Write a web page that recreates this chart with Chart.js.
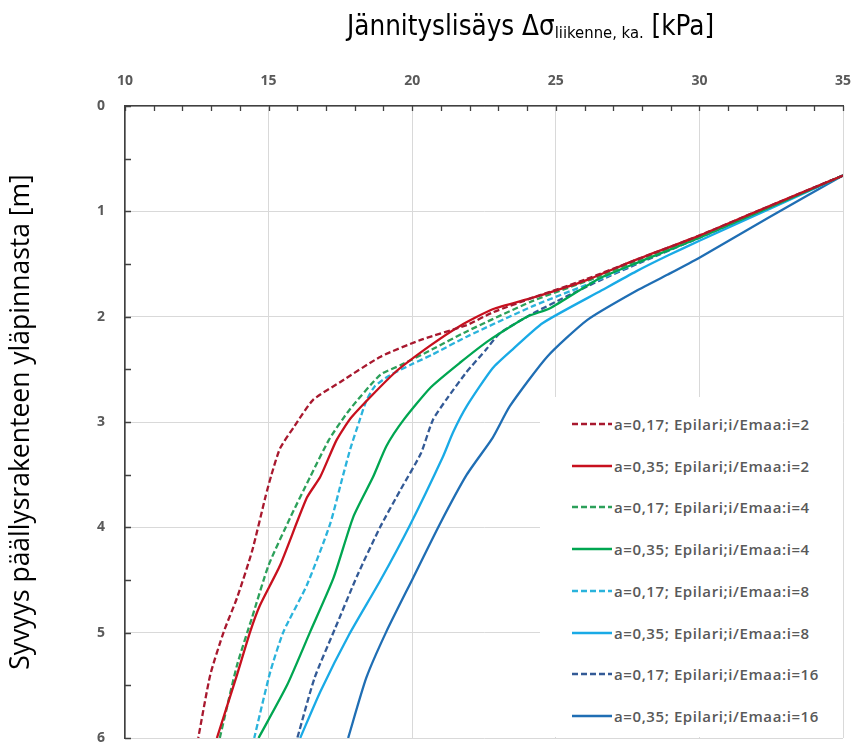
<!DOCTYPE html>
<html>
<head>
<meta charset="utf-8">
<script src="https://cdn.jsdelivr.net/npm/chart.js@4.4.0/dist/chart.umd.min.js"></script>
<style>
    body { margin: 0; background: #fff; }
    #wrap { position: relative; width: 853px; height: 747px; }
    #xTitle {
        position: absolute; left: 347px; top: 9px;
        font-family: "Liberation Sans Narrow", "DejaVu Sans Condensed", sans-serif;
        font-size: 27.5px; color: #000; white-space: nowrap;
    }
    #xTitle sub { font-size: 16.5px; vertical-align: baseline; position: relative; top: 3px; }
    #legend {
        position: absolute; left: 540px; top: 397px; width: 303px; height: 340px;
        background: #fff;
    }
    .row {
        position: absolute; left: 32px; height: 20px; display: flex; align-items: center;
        font: 600 15px "Open Sans", sans-serif; letter-spacing: 0.6px; color: #595959; white-space: nowrap;
    }
    .row svg { margin-right: 2px; }
</style>
</head>
<body>
<div id="wrap">
    <canvas id="chart" width="853" height="747"></canvas>
    <div id="xTitle">Jännityslisäys Δσ<sub>liikenne, ka.</sub> [kPa]</div>
    <div id="legend"></div>
</div>
<script>
// Series values: stress [kPa] vs depth [m]
const stress_017_i2 = [35, 32, 30, 27.7, 26, 24.2, 22.8, 21.9, 20.3, 18.9, 17.5, 16.55, 15.9, 15.4, 15.1, 14.9, 14.42, 13.9, 13.44, 12.97, 12.55];
const depth_017_i2  = [0.66, 1.0, 1.23, 1.47, 1.65, 1.82, 1.96, 2.08, 2.22, 2.38, 2.62, 2.79, 3.04, 3.25, 3.5, 3.7, 4.23, 4.67, 4.99, 5.40, 6.0];

const stress_035_i2 = [35, 32, 30, 27.7, 26.1, 24.2, 22.8, 21.65, 20.6, 19.4, 17.9, 17.37, 16.8, 16.33, 15.4, 14.7, 14.36, 13.9, 13.2];
const depth_035_i2  = [0.66, 1.0, 1.23, 1.47, 1.65, 1.82, 1.93, 2.09, 2.28, 2.53, 2.95, 3.17, 3.52, 3.72, 4.36, 4.74, 4.99, 5.40, 6.0];

const stress_017_i4 = [35, 30, 28, 26.5, 24.2, 21.9, 20.7, 19.6, 18.9, 17.8, 17.1, 16.45, 15.75, 15.0, 14.42, 13.9, 13.3];
const depth_017_i4  = [0.66, 1.24, 1.45, 1.62, 1.85, 2.14, 2.31, 2.46, 2.55, 2.89, 3.17, 3.52, 3.91, 4.36, 4.86, 5.31, 6.0];

const stress_035_i4 = [35, 30, 28, 26.5, 24.8, 24.0, 22.7, 21.65, 20.65, 19.7, 19.1, 18.64, 17.95, 17.26, 16.45, 15.64, 14.65];
const depth_035_i4  = [0.66, 1.25, 1.47, 1.64, 1.92, 2.0, 2.22, 2.44, 2.67, 2.98, 3.23, 3.52, 3.9, 4.48, 4.99, 5.50, 6.0];

const stress_017_i8 = [35, 30, 28, 26.5, 24.2, 21.9, 20.7, 20.0, 19.2, 18.7, 18.4, 18.15, 17.85, 17.55, 17.14, 16.33, 15.52, 15.06, 14.5];
const depth_017_i8  = [0.66, 1.25, 1.47, 1.65, 1.90, 2.19, 2.36, 2.45, 2.56, 2.66, 2.80, 3.0, 3.25, 3.55, 3.97, 4.55, 4.99, 5.37, 6.0];

const stress_035_i8 = [35, 30, 28.9, 27.8, 26.6, 24.55, 23.5, 22.8, 21.9, 21.42, 21.07, 19.92, 18.88, 17.8, 16.8, 16.1];
const depth_035_i8  = [0.66, 1.28, 1.42, 1.57, 1.75, 2.06, 2.31, 2.49, 2.85, 3.1, 3.33, 3.98, 4.51, 5.02, 5.56, 6.0];

const stress_017_i16 = [35, 30, 28, 26.5, 25.36, 24.2, 23.04, 22.58, 21.88, 21.18, 20.72, 20.3, 19.6, 18.88, 18.1, 17.3, 16.6, 16.0];
const depth_017_i16  = [0.66, 1.25, 1.48, 1.66, 1.81, 1.97, 2.16, 2.31, 2.53, 2.79, 2.98, 3.3, 3.64, 4.0, 4.45, 4.97, 5.43, 6.0];

const stress_035_i16 = [35, 32.4, 30, 28.9, 27.7, 26.1, 24.7, 23.4, 22.8, 21.9, 20.96, 20.03, 19.1, 18.4, 17.77];
const depth_035_i16  = [0.66, 1.06, 1.44, 1.6, 1.77, 2.03, 2.38, 2.85, 3.15, 3.5, 3.97, 4.48, 4.99, 5.43, 6.0];

const seriesLabels = [
    'a=0,17; Epilari;i/Emaa:i=2',
    'a=0,35; Epilari;i/Emaa:i=2',
    'a=0,17; Epilari;i/Emaa:i=4',
    'a=0,35; Epilari;i/Emaa:i=4',
    'a=0,17; Epilari;i/Emaa:i=8',
    'a=0,35; Epilari;i/Emaa:i=8',
    'a=0,17; Epilari;i/Emaa:i=16',
    'a=0,35; Epilari;i/Emaa:i=16'
];
const seriesStress = [stress_017_i2, stress_035_i2, stress_017_i4, stress_035_i4, stress_017_i8, stress_035_i8, stress_017_i16, stress_035_i16];
const seriesDepth = [depth_017_i2, depth_035_i2, depth_017_i4, depth_035_i4, depth_017_i8, depth_035_i8, depth_017_i16, depth_035_i16];

// styles
const seriesColors = ['#a8182e', '#c8101e', '#2ca05a', '#00a651', '#2ab3dc', '#19aae6', '#335a96', '#1f6eb4'];
const seriesDashed = [true, false, true, false, true, false, true, false];

const datasets = seriesLabels.map((label, i) => ({
    label: label,
    data: seriesStress[i].map((x, j) => ({ x: x, y: seriesDepth[i][j] })),
    borderColor: seriesColors[i],
    borderWidth: 2.3,
    borderDash: seriesDashed[i] ? [6, 3] : [],
    showLine: true,
    pointRadius: 0,
    tension: 0.2,
    fill: false
}));

// minor tick marks inside the plot
const innerTicks = {
    id: 'innerTicks',
    afterDraw(chart) {
        const { ctx, chartArea, scales } = chart;
        ctx.save();
        ctx.strokeStyle = '#404040';
        ctx.lineWidth = 1.3;
        ctx.beginPath();
        for (let v = 10; v <= 35; v += 1) {
            const x = Math.round(scales.x.getPixelForValue(v)) + 0.5;
            ctx.moveTo(x, chartArea.top);
            ctx.lineTo(x, chartArea.top + 5);
        }
        for (let v = 0; v <= 6; v += 0.5) {
            const y = Math.round(scales.y.getPixelForValue(v)) + 0.5;
            ctx.moveTo(chartArea.left, y);
            ctx.lineTo(chartArea.left + 6, y);
        }
        ctx.stroke();
        ctx.restore();
    }
};

const tickFont = { family: "'Open Sans', sans-serif", size: 14, weight: 'bold' };

new Chart(document.getElementById('chart'), {
    type: 'scatter',
    data: { datasets: datasets },
    plugins: [innerTicks],
    options: {
        responsive: false,
        animation: false,
        layout: { padding: { left: 0, top: 0, right: 10, bottom: 9 } },
        scales: {
            x: {
                type: 'linear',
                position: 'top',
                min: 10,
                max: 35,
                afterFit: s => { s.height = 106; s.paddingLeft = 0; s.paddingRight = 0; },
                ticks: { stepSize: 5, color: '#595959', font: tickFont, padding: 17 },
                grid: { color: '#d9d9d9', drawTicks: false },
                border: { color: '#404040', width: 1.6 }
            },
            y: {
                type: 'linear',
                reverse: true,
                min: 0,
                max: 6,
                afterFit: s => { s.width = 125; s.paddingTop = 0; s.paddingBottom = 0; },
                ticks: { stepSize: 1, color: '#595959', font: tickFont, padding: 20 },
                grid: { color: '#d9d9d9', drawTicks: false },
                border: { color: '#404040', width: 1.6 },
                title: {
                    display: true,
                    text: 'Syvyys päällysrakenteen yläpinnasta [m]',
                    color: '#000',
                    font: { family: "'Open Sans', sans-serif", size: 26.5 },
                    padding: { top: 6, bottom: 0 }
                }
            }
        },
        plugins: {
            legend: { display: false },
            tooltip: { enabled: false }
        }
    }
});

// legend box inside the plot
const legendEl = document.getElementById('legend');
seriesLabels.forEach((label, i) => {
    const row = document.createElement('div');
    row.className = 'row';
    row.style.top = (17 + i * 41.7) + 'px';
    const dash = seriesDashed[i] ? ' stroke-dasharray="6 3"' : '';
    row.innerHTML = '<svg width="40" height="6"><line x1="0" y1="3" x2="40" y2="3" stroke="' +
        seriesColors[i] + '" stroke-width="2.5"' + dash + '/></svg><span>' + label + '</span>';
    legendEl.appendChild(row);
});
</script>
</body>
</html>
